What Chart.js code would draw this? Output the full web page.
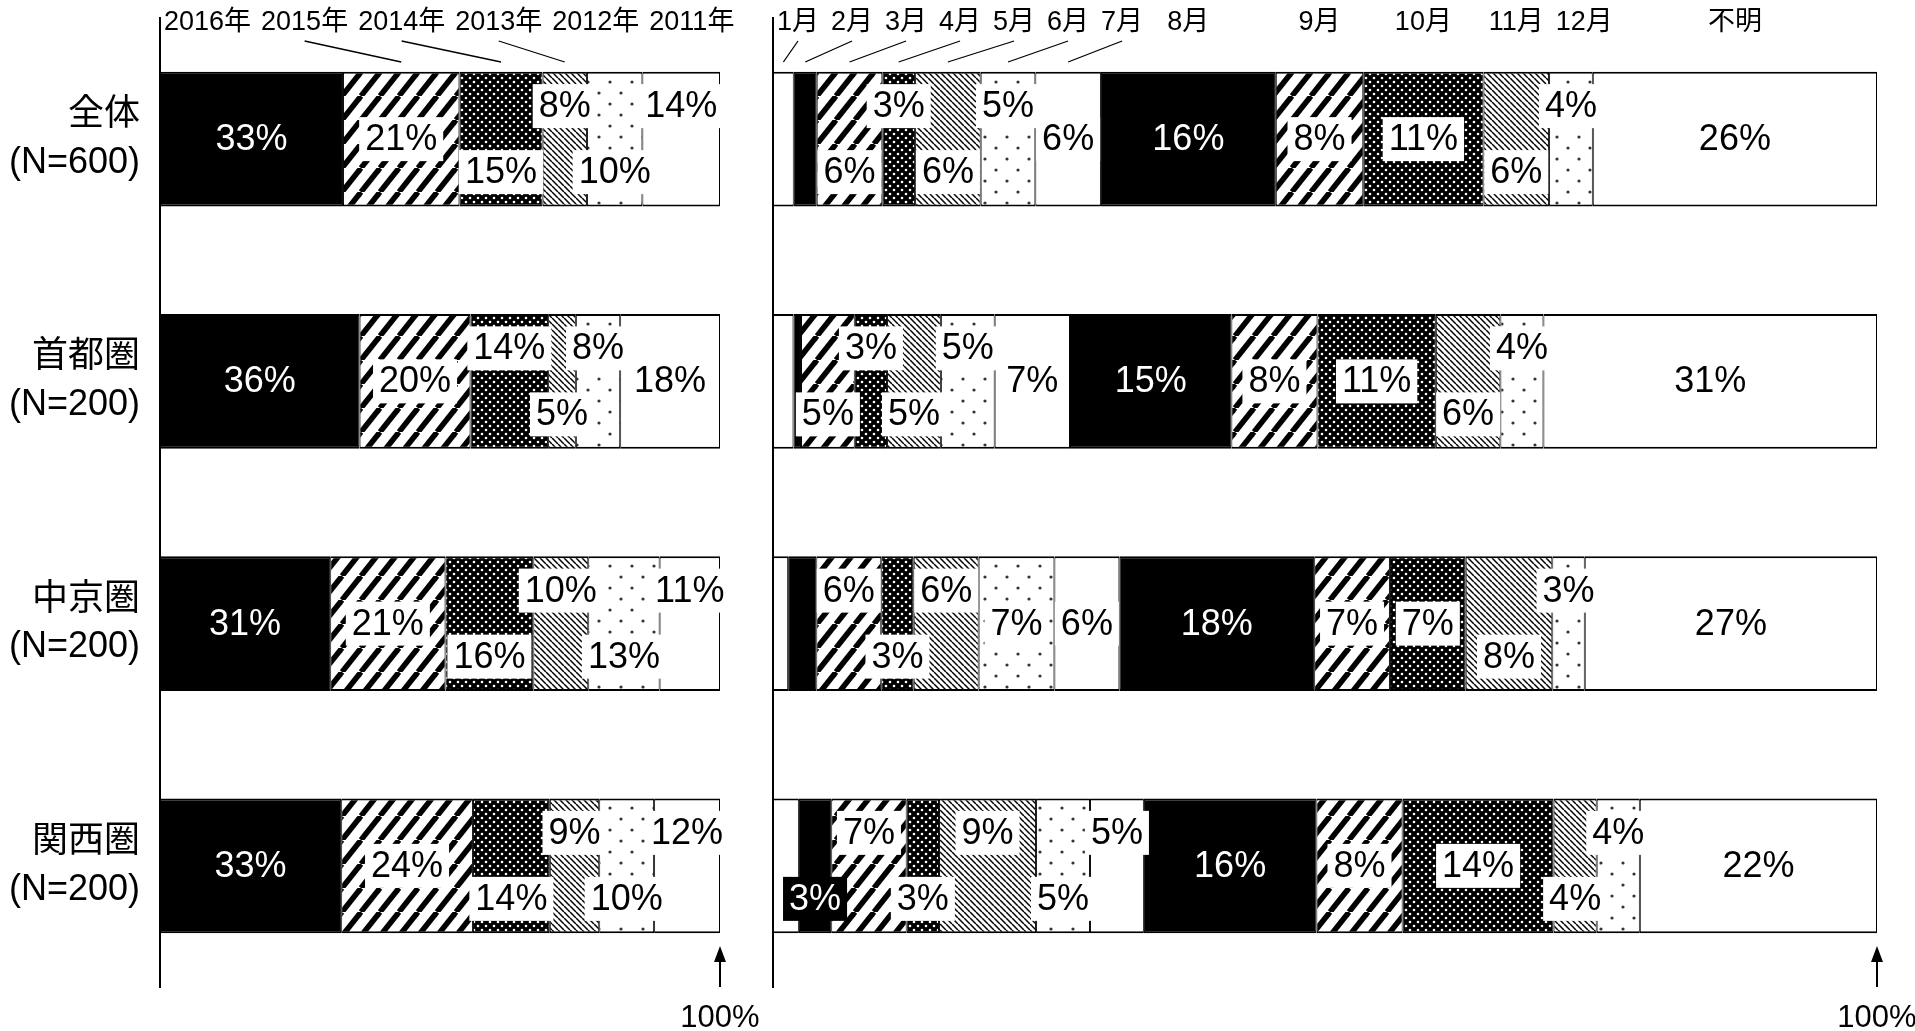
<!DOCTYPE html>
<html lang="ja">
<head>
<meta charset="utf-8">
<title>年別・月別</title>
<script src="https://cdn.jsdelivr.net/npm/chart.js@4.4.1/dist/chart.umd.min.js"></script>
<style>
  html, body { margin: 0; padding: 0; background: #fff; }
  body { width: 1915px; height: 1031px; position: relative; overflow: hidden; }
  #yearChart { position: absolute; left: 0; top: 0; }
  #monthChart { position: absolute; left: 760px; top: 0; }
</style>
</head>
<body>
<canvas id="yearChart" width="760" height="1031"></canvas>
<canvas id="monthChart" width="1155" height="1031"></canvas>
<script>
// カテゴリ
const regions = ['全体', '首都圏', '中京圏', '関西圏'];
const sampleSizes = ['(N=600)', '(N=200)', '(N=200)', '(N=200)'];

// 左: 年別 (%)
const yearNames = ['2016年', '2015年', '2014年', '2013年', '2012年', '2011年'];
const y2016 = [33, 36, 31, 33];
const y2015 = [21, 20, 21, 24];
const y2014 = [15, 14, 16, 14];
const y2013 = [8, 5, 10, 9];
const y2012 = [10, 8, 13, 10];
const y2011 = [14, 18, 11, 12];

// 右: 月別 (%)  1月・2月の小さい値はラベルが無いので幅から読んだ推定値
const monthNames = ['1月', '2月', '3月', '4月', '5月', '6月', '7月', '8月', '9月', '10月', '11月', '12月', '不明'];
const m01 = [1.9, 1.9, 1.4, 2.4];
const m02 = [2.1, 0.7, 2.6, 3];
const m03 = [6, 5, 6, 7];
const m04 = [3, 3, 3, 3];
const m05 = [6, 5, 6, 9];
const m06 = [5, 5, 7, 5];
const m07 = [6, 7, 6, 5];
const m08 = [16, 15, 18, 16];
const m09 = [8, 8, 7, 8];
const m10 = [11, 11, 7, 14];
const m11 = [6, 6, 8, 4];
const m12 = [4, 4, 3, 4];
const unknown = [26, 31, 27, 22];

// ラベル位置 (u=上, m=中央, l=下, -=なし)
const yearLabelPos = [
    ['m', 'm', 'l', 'u', 'l', 'u'],
    ['m', 'm', 'u', 'l', 'u', 'm'],
    ['m', 'm', 'l', 'u', 'l', 'u'],
    ['m', 'm', 'l', 'u', 'l', 'u'],
];
const monthLabelPos = [
    ['-', '-', 'l', 'u', 'l', 'u', 'm', 'm', 'm', 'm', 'l', 'u', 'm'],
    ['-', '-', 'l', 'u', 'l', 'u', 'm', 'm', 'm', 'm', 'l', 'u', 'm'],
    ['-', '-', 'u', 'l', 'u', 'm', 'm', 'm', 'm', 'm', 'l', 'u', 'm'],
    ['-', 'l', 'u', 'l', 'u', 'l', 'u', 'm', 'm', 'm', 'l', 'u', 'm'],
];

const FONT = '"Liberation Sans", "Noto Sans CJK JP", sans-serif';

// 模様
function makeFill(kind) {
    if (kind === 'solid') return '#000';
    if (kind === 'white') return '#fff';
    const c = document.createElement('canvas');
    const g = c.getContext('2d');
    if (kind === 'hatch') {
        const w = 19, h = 24;
        c.width = w; c.height = h;
        g.fillStyle = '#fff'; g.fillRect(0, 0, w, h);
        g.strokeStyle = '#000'; g.lineWidth = 5.5;
        for (let k = -1; k <= 1; k++) {
            g.beginPath(); g.moveTo(k * w, h); g.lineTo(k * w + w, 0); g.stroke();
        }
    } else if (kind === 'dots') {
        c.width = 8; c.height = 8;
        g.fillStyle = '#000'; g.fillRect(0, 0, 8, 8);
        g.fillStyle = '#fff';
        [[2, 2], [6, 6]].forEach(([x, y]) => { g.beginPath(); g.arc(x, y, 1.3, 0, Math.PI * 2); g.fill(); });
    } else if (kind === 'diag') {
        c.width = 6; c.height = 6;
        g.fillStyle = '#fff'; g.fillRect(0, 0, 6, 6);
        g.strokeStyle = '#000'; g.lineWidth = 1.5;
        for (let k = -1; k <= 1; k++) {
            g.beginPath(); g.moveTo(k * 6, 0); g.lineTo(k * 6 + 6, 6); g.stroke();
        }
    } else if (kind === 'dotsLight') {
        c.width = 22; c.height = 22;
        g.fillStyle = '#fff'; g.fillRect(0, 0, 22, 22);
        g.fillStyle = '#333';
        [[5, 5], [16, 16]].forEach(([x, y]) => { g.beginPath(); g.arc(x, y, 1.6, 0, Math.PI * 2); g.fill(); });
    }
    return g.createPattern(c, 'repeat');
}
const fills = {};
['solid', 'hatch', 'dots', 'diag', 'dotsLight', 'white'].forEach(k => { fills[k] = makeFill(k); });

const yearStyles = ['solid', 'hatch', 'dots', 'diag', 'dotsLight', 'white'];
const monthStyles = ['white', 'solid', 'hatch', 'dots', 'diag', 'dotsLight', 'white',
    'solid', 'hatch', 'dots', 'diag', 'dotsLight', 'white'];

// 各行を100%に揃える
function buildDatasets(seriesList, names, styles) {
    const sums = regions.map((_, r) => seriesList.reduce((s, arr) => s + arr[r], 0));
    return seriesList.map((arr, i) => ({
        label: names[i],
        data: arr.map((v, r) => v / sums[r] * 100),
        values: arr,
        styleKey: styles[i],
        backgroundColor: fills[styles[i]],
        borderColor: '#000',
        borderWidth: { top: 2, bottom: 2, left: 1, right: 1 },
        borderSkipped: false,
        barPercentage: 0.556,
        categoryPercentage: 1,
    }));
}

// 値ラベル
function labelPlugin(placement) {
    return {
        id: 'percentLabels',
        afterDatasetsDraw(chart) {
            const ctx = chart.ctx;
            ctx.save();
            ctx.font = `36px ${FONT}`;
            ctx.textAlign = 'center';
            ctx.textBaseline = 'middle';
            chart.data.datasets.forEach((ds, i) => {
                chart.getDatasetMeta(i).data.forEach((bar, r) => {
                    const p = placement[r][i];
                    if (p === '-') return;
                    const text = ds.values[r] + '%';
                    const cx = (bar.x + bar.base) / 2;
                    const cy = bar.y + (p === 'u' ? -33 : p === 'l' ? 33 : 0);
                    const w = ctx.measureText(text).width + 12;
                    const dark = ds.styleKey === 'solid';
                    ctx.fillStyle = dark ? '#000' : '#fff';
                    ctx.fillRect(cx - w / 2, cy - 22, w, 44);
                    ctx.fillStyle = dark ? '#fff' : '#000';
                    ctx.fillText(text, cx, cy + 1);
                });
            });
            ctx.restore();
        }
    };
}

// 上部の系列名と引き出し線
function headerPlugin(names, packFromRight, gap) {
    return {
        id: 'seriesHeader',
        afterDraw(chart) {
            const ctx = chart.ctx;
            const area = chart.chartArea;
            ctx.save();
            ctx.font = `27px ${FONT}`;
            const segs = chart.data.datasets.map((ds, i) => {
                const bar = chart.getDatasetMeta(i).data[0];
                const a = Math.min(bar.x, bar.base), b = Math.max(bar.x, bar.base);
                return { a, b, c: (a + b) / 2, w: ctx.measureText(names[i]).width };
            });
            const pos = segs.map(s => s.c);
            if (packFromRight) {
                for (let i = segs.length - 2; i >= 0; i--) {
                    pos[i] = Math.min(pos[i], pos[i + 1] - (segs[i + 1].w + segs[i].w) / 2 - gap);
                }
            }
            // 左端からも重ならないように詰める
            for (let i = 0; i < segs.length; i++) {
                const lim = i === 0 ? area.left + 4 + segs[i].w / 2
                    : pos[i - 1] + (segs[i - 1].w + segs[i].w) / 2 + gap;
                pos[i] = Math.max(pos[i], lim);
            }
            ctx.textAlign = 'center';
            ctx.textBaseline = 'middle';
            ctx.fillStyle = '#000';
            ctx.strokeStyle = '#000';
            ctx.lineWidth = 1.3;
            segs.forEach((s, i) => {
                ctx.fillText(names[i], pos[i], 23);
                if (Math.abs(pos[i] - s.c) > (s.b - s.a) / 2 + 2) {
                    ctx.beginPath();
                    ctx.moveTo(pos[i], 41);
                    ctx.lineTo(s.c, 62);
                    ctx.stroke();
                }
            });
            ctx.restore();
        }
    };
}

// 100% の矢印
const hundredMark = {
    id: 'hundredMark',
    afterDraw(chart) {
        const { ctx, chartArea: a } = chart;
        const x = a.right;
        ctx.save();
        ctx.strokeStyle = '#000';
        ctx.fillStyle = '#000';
        ctx.lineWidth = 2;
        ctx.beginPath(); ctx.moveTo(x, a.bottom); ctx.lineTo(x, a.bottom - 28); ctx.stroke();
        ctx.beginPath();
        ctx.moveTo(x, a.bottom - 41);
        ctx.lineTo(x - 6, a.bottom - 25);
        ctx.lineTo(x + 6, a.bottom - 25);
        ctx.closePath(); ctx.fill();
        ctx.font = `31px ${FONT}`;
        ctx.textAlign = 'center';
        ctx.textBaseline = 'middle';
        ctx.fillText('100%', x, a.bottom + 31);
        ctx.restore();
    }
};

function makeChart(id, datasets, yWidth, showTicks, padRight, plugins) {
    return new Chart(document.getElementById(id), {
        type: 'bar',
        data: {
            labels: regions.map((r, i) => [r, sampleSizes[i]]),
            datasets: datasets,
        },
        options: {
            indexAxis: 'y',
            responsive: false,
            animation: false,
            layout: { padding: { top: 18, bottom: 44, left: 0, right: padRight } },
            plugins: { legend: { display: false }, tooltip: { enabled: false } },
            scales: {
                x: { stacked: true, min: 0, max: 100, display: false },
                y: {
                    stacked: true,
                    afterFit(scale) {
                        scale.width = yWidth;
                        scale.paddingTop = 0;
                        scale.paddingBottom = 0;
                    },
                    grid: { display: false, drawTicks: false },
                    border: { display: true, color: '#000', width: 2 },
                    ticks: {
                        display: showTicks,
                        padding: 20,
                        color: '#000',
                        font: { family: FONT, size: 36, lineHeight: 1.33 },
                    },
                },
            },
        },
        plugins: plugins,
    });
}

makeChart('yearChart',
    buildDatasets([y2016, y2015, y2014, y2013, y2012, y2011], yearNames, yearStyles),
    160, true, 40,
    [labelPlugin(yearLabelPos), headerPlugin(yearNames, true, 10), hundredMark]);

makeChart('monthChart',
    buildDatasets([m01, m02, m03, m04, m05, m06, m07, m08, m09, m10, m11, m12, unknown], monthNames, monthStyles),
    13, false, 38,
    [labelPlugin(monthLabelPos), headerPlugin(monthNames, false, 12), hundredMark]);
</script>
</body>
</html>
